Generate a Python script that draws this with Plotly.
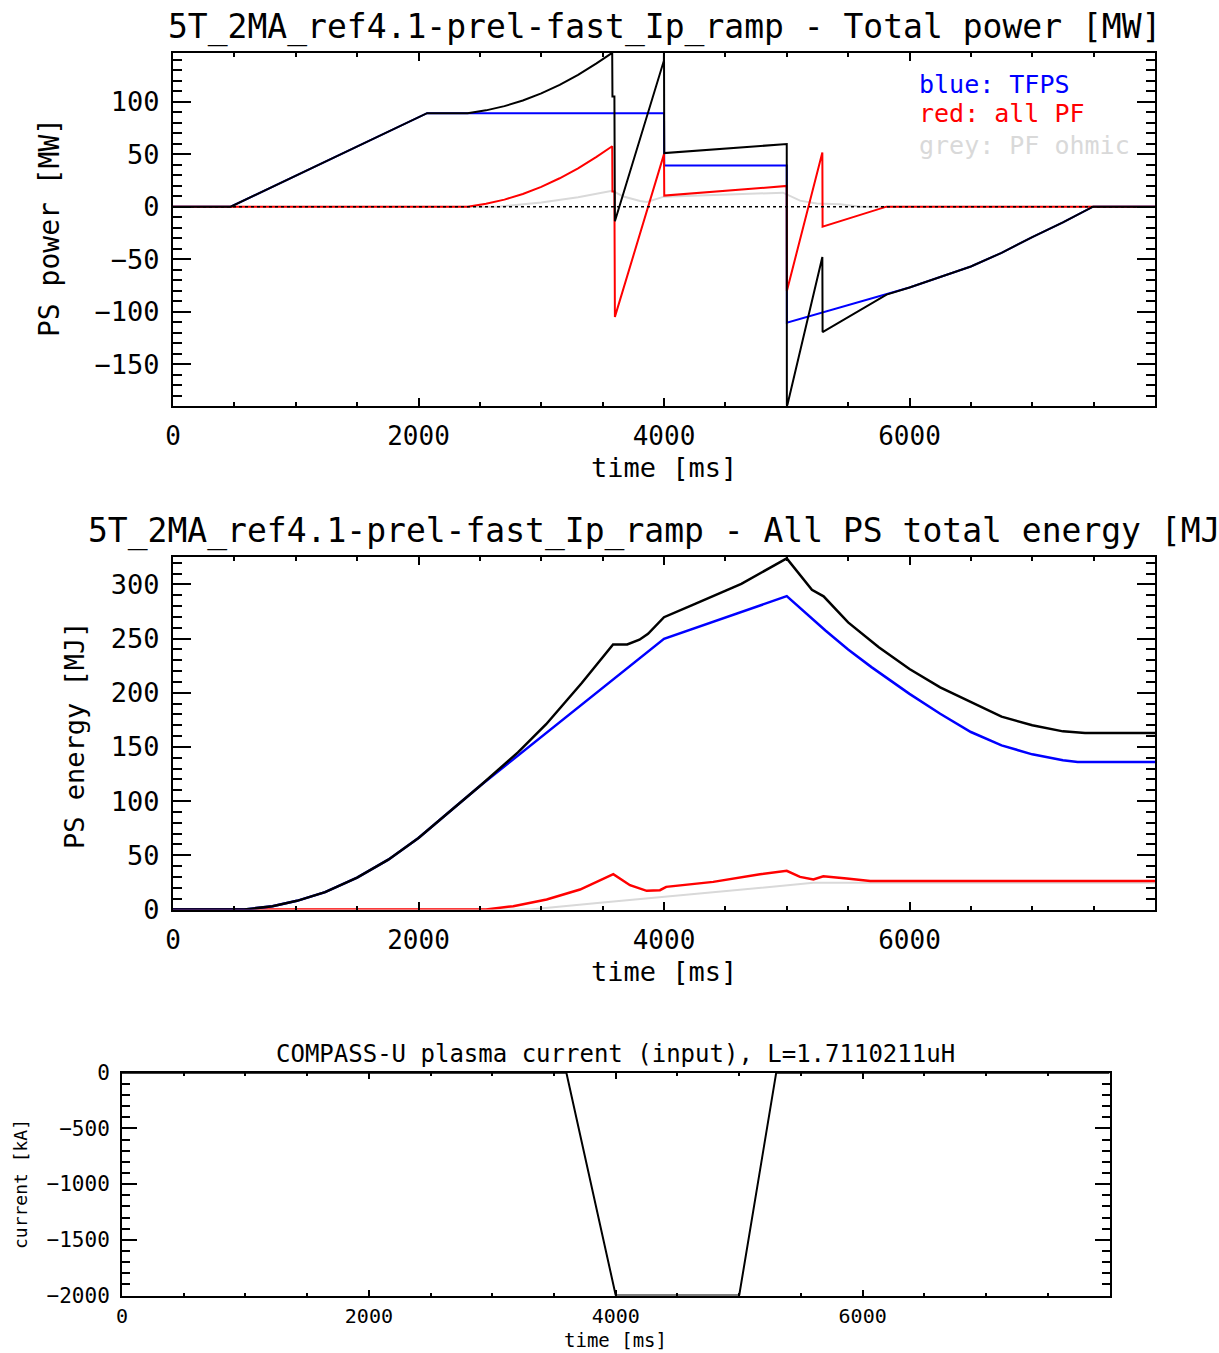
import plotly.graph_objects as go

W, H = 1219, 1353
FONT = "DejaVu Sans Mono"

# ---------------- Panel 1: power [MW] ----------------
t_tot_pw = [0, 470, 2070, 2400, 2550, 2700, 2850, 3000, 3150, 3300, 3450, 3578, 3580, 3596, 3600,
            3999, 4000, 4002, 5000, 5001, 5290, 5292, 5813, 6000, 6250, 6500, 6750, 7000, 7250,
            7495, 8000]
p_total = [0, 0, 89, 89, 91.7, 95.7, 101.1, 107.8, 116, 125.5, 136.4, 146.5, 105, 105, -14,
           139, 152, 51, 59.6, -191, -48, -119.5, -83.8, -77, -67, -57, -44, -29, -15,
           0, 0]

t_tf_pw = [0, 470, 2070, 4000, 4002, 5000, 5001, 5813, 6000, 6250, 6500, 6750, 7000, 7250, 7495, 8000]
p_tfps = [0, 0, 89, 89, 39.2, 39.2, -110.5, -83.8, -77, -67, -57, -44, -29, -15, 0, 0]

t_pf_pw = [0, 2400, 2550, 2700, 2850, 3000, 3150, 3300, 3450, 3578, 3580, 3596, 3600, 4000, 4002,
           5000, 5001, 5290, 5292, 5813, 8000]
p_pf = [0, 0, 2.7, 6.7, 12.1, 18.8, 27, 36.5, 47.4, 57.5, 14.4, 14.4, -105, 50, 10.5,
        19.7, -80.3, 51.6, -19.1, 0, 0]

t_ohm_pw = [0, 2650, 3000, 3300, 3578, 3670, 3805, 3860, 4000, 4500, 4970, 5108, 5244, 5434, 5600, 8000]
p_ohm = [0, 0, 4, 9, 15, 9.7, 5.3, 4.5, 9.5, 11.5, 13.3, 5.7, 3.0, 2.3, 0, 0]

t_zero = [0, 8000]
p_zero = [0, 0]

# ---------------- Panel 2: energy [MJ] ----------------
t_tot_en = [0, 580, 810, 1010, 1239, 1500, 1754, 2000, 2240, 2500, 2810, 3040, 3330, 3585, 3700,
            3800, 3870, 4000, 4225, 4630, 5000, 5130, 5205, 5300, 5500, 5750, 6000, 6250, 6500,
            6750, 7000, 7250, 7430, 8000]
e_total = [0, 0, 3, 8, 16, 29.5, 46, 66, 89, 114, 145, 171, 209, 244.6, 244.6,
           249, 254.5, 269.8, 280.6, 300.6, 324, 305, 295, 289, 265, 242, 222, 205, 191.5,
           178, 170, 164.4, 162.9, 162.9]

t_tf_en = [0, 580, 810, 1010, 1239, 1500, 1754, 2000, 2240, 2500, 4000, 5000, 5315, 5500, 5690,
           6000, 6250, 6500, 6750, 7000, 7250, 7370, 8000]
e_tfps = [0, 0, 3, 8, 16, 29.5, 46, 66, 89, 114, 249.8, 289.2, 257.5, 240, 223.7,
          199, 180.7, 163.8, 151.5, 143.2, 137.7, 136.1, 136.1]

t_pf_en = [0, 2550, 2772, 3044, 3316, 3587, 3723, 3859, 3967, 4018, 4401, 4782, 5000,
           5108, 5217, 5298, 5489, 5680, 8000]
e_pf = [0, 0, 3.1, 9.2, 18.4, 32.6, 22.4, 17.2, 17.8, 20.9, 25.5, 32.6, 35.7,
        30.1, 27.7, 30.7, 28.6, 26.4, 26.4]

t_ohm_en = [0, 2908, 3479, 3994, 5000, 5217, 8000]
e_ohm = [0, 0, 6.2, 11.7, 22.4, 24.6, 24.6]

# ---------------- Panel 3: plasma current [kA] ----------------
t_ip = [0, 3600, 4000, 5000, 5300, 8000]
i_ip = [0, 0, -2000, -2000, 0, 0]

# tick labels
x_ticks = [0, 2000, 4000, 6000]
y1_ticks = [-150, -100, -50, 0, 50, 100]
y2_ticks = [0, 50, 100, 150, 200, 250, 300]
y3_ticks = [-2000, -1500, -1000, -500, 0]

BLUE = "#0000ff"
RED = "#ff0000"
GREY = "#d9d9d9"
BLACK = "#000000"


def px(x):
    return x / W


def py(y):
    return 1 - y / H


fig = go.Figure()

# panel 1
fig.add_trace(go.Scatter(x=t_ohm_pw, y=p_ohm, mode="lines", line=dict(color=GREY, width=2), xaxis="x", yaxis="y"))
fig.add_trace(go.Scatter(x=t_tf_pw, y=p_tfps, mode="lines", line=dict(color=BLUE, width=2), xaxis="x", yaxis="y"))
fig.add_trace(go.Scatter(x=t_pf_pw, y=p_pf, mode="lines", line=dict(color=RED, width=2), xaxis="x", yaxis="y"))
fig.add_trace(go.Scatter(x=t_tot_pw, y=p_total, mode="lines", line=dict(color=BLACK, width=2), xaxis="x", yaxis="y"))
fig.add_trace(go.Scatter(x=t_zero, y=p_zero, mode="lines", line=dict(color=BLACK, width=1.5, dash="dot"), xaxis="x", yaxis="y"))

# panel 2
fig.add_trace(go.Scatter(x=t_ohm_en, y=e_ohm, mode="lines", line=dict(color=GREY, width=2), xaxis="x2", yaxis="y2"))
fig.add_trace(go.Scatter(x=t_pf_en, y=e_pf, mode="lines", line=dict(color=RED, width=2.5), xaxis="x2", yaxis="y2"))
fig.add_trace(go.Scatter(x=t_tf_en, y=e_tfps, mode="lines", line=dict(color=BLUE, width=2.5), xaxis="x2", yaxis="y2"))
fig.add_trace(go.Scatter(x=t_tot_en, y=e_total, mode="lines", line=dict(color=BLACK, width=2.5), xaxis="x2", yaxis="y2"))

# panel 3
fig.add_trace(go.Scatter(x=t_ip, y=i_ip, mode="lines", line=dict(color=BLACK, width=2), xaxis="x3", yaxis="y3"))


def xaxis(domain, anchor, fsize, major, minor, standoff):
    return dict(domain=domain, anchor=anchor, range=[0, 8000], tickvals=x_ticks,
                ticks="inside", ticklen=major, tickwidth=2, tickcolor=BLACK,
                mirror="ticks", showline=True, linewidth=2, linecolor=BLACK,
                showgrid=False, zeroline=False, ticklabelstandoff=standoff, automargin=False,
                tickfont=dict(family=FONT, size=fsize, color=BLACK),
                minor=dict(dtick=500, tick0=0, ticks="inside", ticklen=minor,
                           tickwidth=2, tickcolor=BLACK, showgrid=False))


def yaxis(domain, anchor, rng, tickvals, mdt, fsize, major, minor):
    return dict(domain=domain, anchor=anchor, range=rng, tickvals=tickvals,
                ticks="inside", ticklen=major, tickwidth=2, tickcolor=BLACK,
                mirror="ticks", showline=True, linewidth=2, linecolor=BLACK,
                showgrid=False, zeroline=False, ticklabelstandoff=6, automargin=False,
                tickfont=dict(family=FONT, size=fsize, color=BLACK),
                minor=dict(dtick=mdt, tick0=0, ticks="inside", ticklen=minor,
                           tickwidth=2, tickcolor=BLACK, showgrid=False))


fig.update_layout(
    width=W, height=H, margin=dict(l=0, r=0, t=0, b=0, pad=0), autosize=False,
    paper_bgcolor="white", plot_bgcolor="white", showlegend=False,
    xaxis=xaxis([px(173), px(1155)], "y", 26, 8, 4, 6),
    yaxis=yaxis([py(405.5), py(52.7)], "x", [-189.4, 146.6], y1_ticks, 10, 27, 18, 9),
    xaxis2=xaxis([px(173), px(1155)], "y2", 26, 8, 4, 6),
    yaxis2=yaxis([py(909.5), py(556.5)], "x2", [0, 325.8], y2_ticks, 10, 27, 18, 9),
    xaxis3=xaxis([px(122), px(1109.5)], "y3", 20, 6, 3, 1),
    yaxis3=yaxis([py(1295.5), py(1072.7)], "x3", [-2000, 0], y3_ticks, 100, 21, 15, 8),
)

ann = []


def text(s, x, y, size, color=BLACK, angle=0, xanchor="center"):
    ann.append(dict(text=s, x=px(x), y=py(y), xref="paper", yref="paper", showarrow=False,
                    xanchor=xanchor, yanchor="middle", textangle=angle,
                    font=dict(family=FONT, size=size, color=color)))


text("5T_2MA_ref4.1-prel-fast_Ip_ramp - Total power [MW]", 664, 27, 33)
text("5T_2MA_ref4.1-prel-fast_Ip_ramp - All PS total energy [MJ]", 664, 531, 33)
text("COMPASS-U plasma current (input), L=1.7110211uH", 615, 1054, 24)

text("blue: TFPS", 917, 84, 25, BLUE, xanchor="left")
text("red: all PF", 917, 114, 25, RED, xanchor="left")
text("grey: PF ohmic", 917, 145, 25, GREY, xanchor="left")

text("PS power [MW]", 50, 228, 28, angle=-90)
text("PS energy [MJ]", 74, 735, 27, angle=-90)
text("current [kA]", 20, 1184, 18, angle=-90)

text("time [ms]", 664, 467, 27)
text("time [ms]", 664, 971, 27)
text("time [ms]", 615, 1340, 19)

fig.update_layout(annotations=ann)

fig.write_html("out.html")
